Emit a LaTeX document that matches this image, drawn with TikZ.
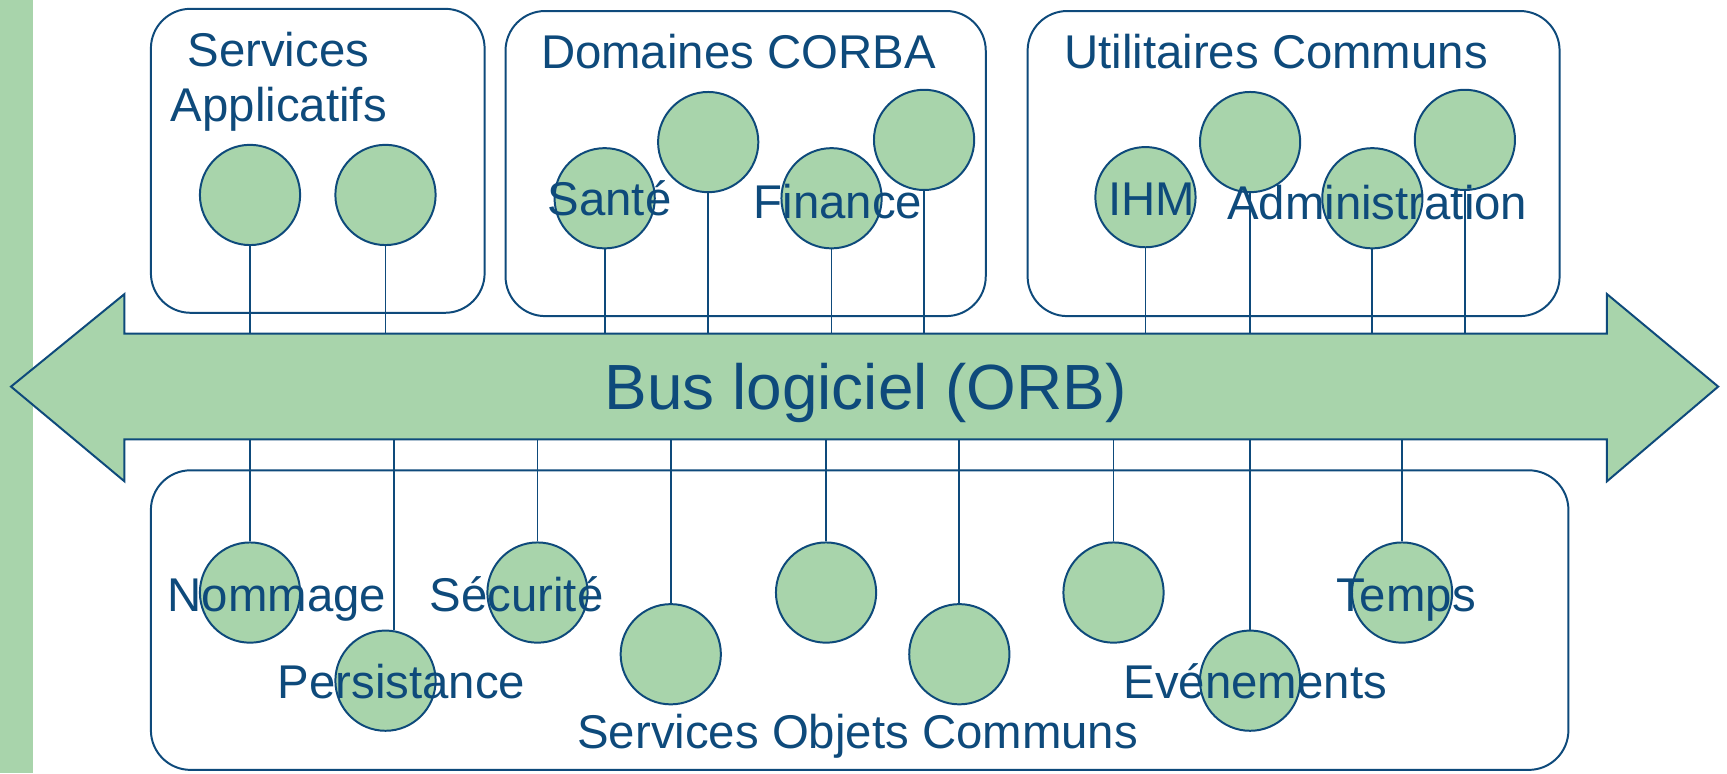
\documentclass[tikz,border=0pt]{standalone}
\usepackage{fontspec}
\setmainfont{Liberation Sans}
\definecolor{busgreen}{HTML}{A8D4AB}
\definecolor{inkblue}{HTML}{0E4A7B}
\begin{document}
\begin{tikzpicture}[x=1pt,y=-1pt,
  frame/.style={draw=inkblue, line width=1.8pt, rounded corners=36pt},
  comp/.style={circle, draw=inkblue, fill=busgreen, line width=1.8pt,
               minimum size=91pt, inner sep=0pt},
  link/.style={draw=inkblue, line width=1.6pt},
  lbl/.style={text=inkblue, font=\fontsize{43}{48}\selectfont,
              inner sep=0pt, anchor=base west},
]
\useasboundingbox (0,0) rectangle (1568,702);

% side band
\fill[busgreen] (0,0) rectangle (30,702);

% groups
\draw[frame] (137,8) rectangle (440,284);
\draw[frame] (459,10) rectangle (895,287);
\draw[frame] (933,10) rectangle (1416,287);
\draw[frame] (137,427) rectangle (1424,699);

% the bus: a double-headed arrow
\draw[fill=busgreen, draw=inkblue, line width=1.8pt, line join=miter]
  (10,351) -- (113,267) -- (113,303) -- (1459,303) -- (1459,267)
  -- (1560,351) -- (1459,437) -- (1459,399) -- (113,399) -- (113,437) -- cycle;
\coordinate (bustop) at (0,303);
\coordinate (busbot) at (0,399);
\node[text=inkblue, font=\fontsize{58}{62}\selectfont, inner sep=0pt, anchor=base]
  (bus) at (786,372) {Bus logiciel (ORB)};

% components above the bus
\node[comp] (sa1) at (227,177) {};
\node[comp] (sa2) at (350,177) {};
\node[comp] (d1) at (549,180) {};
\node[comp] (d2) at (643,129) {};
\node[comp] (d3) at (755,180) {};
\node[comp] (d4) at (839,127) {};
\node[comp] (u1) at (1040,179) {};
\node[comp] (u2) at (1135,129) {};
\node[comp] (u3) at (1246,180) {};
\node[comp] (u4) at (1330,127) {};
\foreach \c in {sa1,sa2,d1,d2,d3,d4,u1,u2,u3,u4}
  \draw[link] (\c.south) -- (\c.south |- bustop);

% components below the bus
\node[comp] (b1) at (227,538) {};
\node[comp] (b2) at (350,618) {};
\node[comp] (b3) at (488,538) {};
\node[comp] (b4) at (609,594) {};
\node[comp] (b5) at (750,538) {};
\node[comp] (b6) at (871,594) {};
\node[comp] (b7) at (1011,538) {};
\node[comp] (b8) at (1135,618) {};
\node[comp] (b9) at (1273,538) {};
\foreach \c in {b1,b3,b4,b5,b6,b7,b8,b9}
  \draw[link] (\c.north) -- (\c.north |- busbot);
\draw[link] (b2.80) -- (b2.80 |- busbot);

% labels
\node[lbl] (tsa1) at (170,60) {Services};
\node[lbl] (tsa2) at (155,110) {Applicatifs};
\node[lbl] (tdom) at (491,62) {Domaines CORBA};
\node[lbl] (tutil) at (966,62) {Utilitaires Communs};
\node[lbl] (tsante) at (497,196) {Santé};
\node[lbl] (tfin) at (684,198) {Finance};
\node[lbl] (tihm) at (1006,196) {IHM};
\node[lbl] (tadm) at (1114,199) {Administration};
\node[lbl] (tnom) at (152,555) {Nommage};
\node[lbl] (tsec) at (390,555) {Sécurité};
\node[lbl] (tpers) at (252,634) {Persistance};
\node[lbl] (tevt) at (1020,634) {Evénements};
\node[lbl] (ttemps) at (1213,555) {Temps};
\node[lbl] (tsoc) at (524,680) {Services Objets Communs};
\end{tikzpicture}
\end{document}
